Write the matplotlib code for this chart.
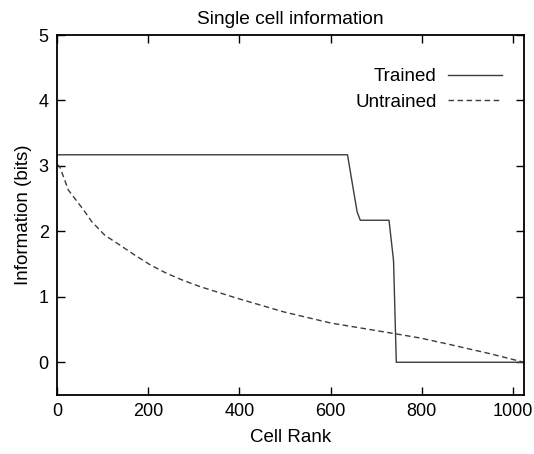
import matplotlib
matplotlib.use("Agg")
import matplotlib.pyplot as plt

plt.rcParams['font.family'] = ['Liberation Sans', 'DejaVu Sans']

# Trained network: information per cell, ranked
trained_rank = [0, 637, 650, 658, 665, 728, 737, 738, 744, 1024]
trained_info = [3.17, 3.17, 2.63, 2.30, 2.17, 2.17, 1.61, 1.54, 0.0, 0.0]

# Untrained network: information per cell, ranked
untrained_rank = [0, 6, 25, 58, 76, 105, 138, 170, 204, 240, 277, 314, 394,
                  497, 600, 738, 797, 859, 950, 1024]
untrained_info = [3.02, 2.99, 2.63, 2.33, 2.15, 1.94, 1.79, 1.64, 1.49, 1.36,
                  1.25, 1.155, 0.98, 0.77, 0.60, 0.44, 0.37, 0.275, 0.13, 0.0]

x_ticks = [0, 200, 400, 600, 800, 1000]
y_ticks = [0, 1, 2, 3, 4, 5]

line_color = '#3c3c3c'

fig = plt.figure(figsize=(5.34, 4.54), dpi=100)
ax = fig.add_axes([57 / 534, 59 / 454, 467 / 534, 360 / 454])

ax.plot(trained_rank, trained_info, color=line_color, lw=1.0, label='Trained')
ax.plot(untrained_rank, untrained_info, color=line_color, lw=1.0,
        dashes=(4, 2.5), label='Untrained')

ax.set_xlim(0, 1024)
ax.set_ylim(-0.5, 5)
ax.set_xticks(x_ticks)
ax.set_yticks(y_ticks)
ax.tick_params(direction='in', length=6, width=1, top=True, right=True,
               labelsize=13, pad=6, colors='black')
for s in ax.spines.values():
    s.set_linewidth(1.3)

ax.set_xlabel('Cell Rank', fontsize=13.5, labelpad=6)
ax.set_ylabel('Information (bits)', fontsize=13.5, labelpad=5)
ax.set_title('Single cell information', fontsize=13.8, pad=8)

ax.legend(loc='upper right', bbox_to_anchor=(0.99, 0.955), markerfirst=False,
          frameon=False, handlelength=2.9, fontsize=13.5, handletextpad=0.6,
          labelspacing=0.45)

fig.savefig('out.png', dpi=100)
